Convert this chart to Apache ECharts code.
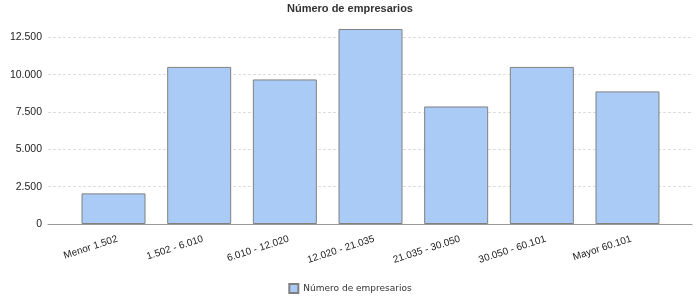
<!DOCTYPE html>
<html>
<head>
<meta charset="utf-8">
<script src="https://cdn.jsdelivr.net/npm/echarts@6/dist/echarts.min.js"></script>
<style>html,body{margin:0;padding:0;background:#fff}#c{width:700px;height:300px}</style>
</head>
<body>
<div id="c"></div>
<script>
const titleText = 'Número de empresarios';
const seriesName = 'Número de empresarios';
const categories = ['Menor 1.502', '1.502 - 6.010', '6.010 - 12.020', '12.020 - 21.035', '21.035 - 30.050', '30.050 - 60.101', 'Mayor 60.101'];
const values = [2050, 10520, 9680, 13060, 7870, 10520, 8880];
const yMin = 0, yMax = 15000, yInterval = 2500;

function fmt(v) {
  return String(v).replace(/\B(?=(\d{3})+(?!\d))/g, '.');
}

const chart = echarts.init(document.getElementById('c'), null, {renderer: 'canvas'});
const font = 'Liberation Sans';
chart.setOption({
  animation: false,
  backgroundColor: '#fff',
  title: {
    text: titleText, left: 'center', top: -2,
    textStyle: {fontFamily: font, fontSize: 11, fontWeight: 'bold', color: '#333'}
  },
  legend: {
    bottom: 1, left: 'center', itemWidth: 9, itemHeight: 9, itemGap: 5,
    icon: 'rect',
    textStyle: {fontFamily: 'DejaVu Sans', fontSize: 9, color: '#333'},
    data: [seriesName]
  },
  grid: [
    {left: 48, right: 8, top: 0, bottom: 76},
    {left: 70.7, right: 29.7, top: 0, bottom: 76}
  ],
  xAxis: [
    {type: 'value', gridIndex: 0, min: 0, max: 1, show: true,
      axisLine: {show: true, lineStyle: {color: '#999', width: 1}},
      axisTick: {show: false}, axisLabel: {show: false}, splitLine: {show: false}},
    {type: 'category', gridIndex: 1, data: categories,
      axisLine: {show: false}, axisTick: {show: false},
      axisLabel: {rotate: 18, margin: 16, fontFamily: font, fontSize: 10, color: '#222', interval: 0,
        padding: [0, -4, 0, 0]}}
  ],
  yAxis: [
    {type: 'value', gridIndex: 0, min: yMin, max: yMax, interval: yInterval,
      axisLine: {show: false}, axisTick: {show: false},
      axisLabel: {fontFamily: font, fontSize: 10.5, color: '#222', margin: 6, showMaxLabel: false, formatter: fmt},
      splitLine: {show: true, showMaxLine: false, lineStyle: {color: '#ddd', type: [3, 2], width: 1}}},
    {type: 'value', gridIndex: 1, min: yMin, max: yMax, interval: yInterval, show: false,
      splitLine: {show: false}}
  ],
  series: [{
    name: seriesName, type: 'bar', xAxisIndex: 1, yAxisIndex: 1,
    data: values, barWidth: 64,
    itemStyle: {color: '#a9cbf5', borderColor: '#808080', borderWidth: 1}
  }]
});
</script>
</body>
</html>
